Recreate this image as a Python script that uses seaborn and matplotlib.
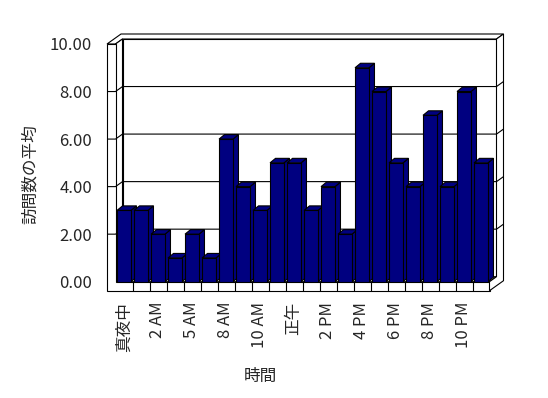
import numpy as np
import pandas as pd
import seaborn as sns
import matplotlib
matplotlib.use('Agg')
import matplotlib.pyplot as plt
from matplotlib.patches import Polygon

# data
hours = ['真夜中', '1 AM', '2 AM', '3 AM', '5 AM', '7 AM', '8 AM', '9 AM', '10 AM', '11 AM',
         '正午', '1 PM', '2 PM', '3 PM', '4 PM', '5 PM', '6 PM', '7 PM', '8 PM', '9 PM',
         '10 PM', '11 PM']
visits = [3, 3, 2, 1, 2, 1, 6, 4, 3, 5, 5, 3, 4, 2, 9, 8, 5, 4, 7, 4, 8, 5]
y_ticks = [0, 2, 4, 6, 8, 10]

sns.set_style('white')
plt.rcParams['font.family'] = ['Noto Sans CJK JP', 'DejaVu Sans']

W, H = 548, 398
fig = plt.figure(figsize=(W / 100, H / 100), dpi=100)
# front plane of the 3d box (pixels)
x0, x1 = 115.5, 489.5
y0, y10 = 281.7, 44
ax = fig.add_axes([x0 / W, 1 - y0 / H, (x1 - x0) / W, (y0 - y10) / H])

df = pd.DataFrame({'hour': hours, 'visits': visits})
sns.barplot(data=df, x='hour', y='visits', color='#000080', saturation=1, width=0.82,
            edgecolor='black', linewidth=0.8, ax=ax)
bars = list(ax.patches)

n = len(hours)
ax.set_xlim(-0.5, n - 0.5)
ax.set_ylim(0, 10)

px_x = (x1 - x0) / n
px_y = (y0 - y10) / 10
DX, DY = 7 / px_x, 5 / px_y        # depth of the floor
BX, BY = 5.5 / px_x, 4.5 / px_y    # depth of a bar
WT = 8.5 / px_x                    # left wall thickness
FT = 9 / px_y                      # floor thickness
L, R = -0.5, n - 0.5
top = y_ticks[-1]

def face(pts, z, fc='white'):
    ax.add_patch(Polygon(pts, closed=True, fc=fc, ec='black', lw=0.8, zorder=z,
                         clip_on=False, joinstyle='miter'))

def line(xs, ys, z=0.7):
    ax.plot(xs, ys, color='black', lw=0.8, zorder=z, clip_on=False, solid_capstyle='butt')

# walls and floor
face([(L + DX, DY), (R + DX, DY), (R + DX, top + DY), (L + DX, top + DY)], 0.5)
face([(L - WT, top), (L, top), (L + DX, top + DY), (R + DX, top + DY),
      (R + 2 * DX, top + 2 * DY), (L - WT + 2 * DX, top + 2 * DY)], 0.5)
face([(L, 0), (L, top), (L + DX, top + DY), (L + DX, DY)], 0.5)
face([(L, 0), (R, 0), (R + DX, DY), (L + DX, DY)], 0.5)
face([(L - WT, -FT), (R, -FT), (R, 0), (L, 0), (L, top), (L - WT, top)], 0.5)
face([(R, -FT), (R + 2 * DX, -FT + 2 * DY), (R + 2 * DX, top + 2 * DY),
      (R + DX, top + DY), (R + DX, DY), (R, 0)], 0.5)

for v in y_ticks[1:-1]:
    line([L - WT, L, L + DX, R + DX, R + 2 * DX], [v, v, v + DY, v + DY, v + 2 * DY])
for i in range(n - 1):
    line([i + 0.5, i + 0.5], [-FT, 0])

# 3d tops and sides of the bars
for i, p in enumerate(bars):
    bx, w, h = p.get_x(), p.get_width(), p.get_height()
    p.set_zorder(3 + 2 * i + 1)
    face([(bx + w, 0), (bx + w, h), (bx + w + BX, h + BY), (bx + w + BX, BY)], 3 + 2 * i, '#000080')
    face([(bx, h), (bx + w, h), (bx + w + BX, h + BY), (bx + BX, h + BY)], 3 + 2 * i, '#000080')

for s in ax.spines.values():
    s.set_visible(False)
ax.set_yticks(y_ticks)
ax.set_yticklabels([f'{v:.2f}' for v in y_ticks], fontsize=12)
ax.set_xticks(range(0, n, 2))
ax.set_xticklabels(hours[::2], fontsize=12)
ax.tick_params(axis='y', length=0, pad=16.9)
ax.tick_params(axis='x', length=0, pad=14.4, rotation=90)
ax.set_xlabel('')
ax.set_ylabel('')

fig.text(30 / W, 1 - 174 / H, '訪問数の平均', rotation=90, ha='center', va='center', fontsize=12)
fig.text(260 / W, 1 - 376 / H, '時間', ha='center', va='center', fontsize=12)

fig.savefig('out.png', dpi=100)
